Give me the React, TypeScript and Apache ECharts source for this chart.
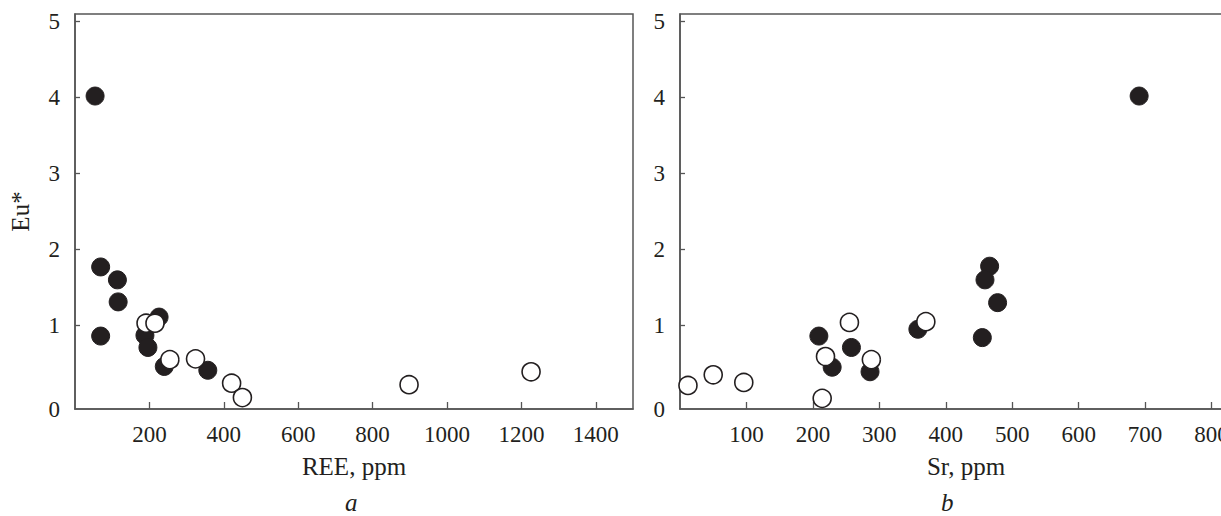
import React, { useEffect, useRef } from "react";
import * as echarts from "echarts";

// Panel a: REE (ppm) vs Eu*
const reeFilled = [54, 69, 114, 116, 69, 226, 188, 196, 240, 357];
const euReeFilled = [4.02, 1.77, 1.6, 1.31, 0.86, 1.11, 0.87, 0.71, 0.46, 0.41];
const reeOpen = [191, 215, 255, 324, 421, 450, 898, 1226];
const euReeOpen = [1.03, 1.03, 0.55, 0.56, 0.24, 0.05, 0.22, 0.39];

// Panel b: Sr (ppm) vs Eu*
const srFilled = [209, 229, 258, 286, 358, 466, 459, 478, 455, 691];
const euSrFilled = [0.86, 0.45, 0.71, 0.39, 0.95, 1.78, 1.6, 1.3, 0.84, 4.02];
const srOpen = [12, 50, 96, 214, 219, 255, 288, 370];
const euSrOpen = [0.21, 0.35, 0.25, 0.04, 0.59, 1.04, 0.55, 1.05];

// Tick values
const reeTicks = [200, 400, 600, 800, 1000, 1200, 1400];
const srTicks = [100, 200, 300, 400, 500, 600, 700, 800];
const euTicks = [1, 2, 3, 4, 5];
const Y_MIN = -0.1;

const xNames = ["REE, ppm", "Sr, ppm"];
const panelLetters = ["a", "b"];
const yName = "Eu*";

const FONT = "'Liberation Serif', 'DejaVu Serif', serif";
const INK = "#231f20";
const AXIS = "#555555";

const zip = (xs: number[], ys: number[]) => xs.map((x, i) => [x, ys[i]]);

export default function App() {
  const ref = useRef<HTMLDivElement>(null);
  useEffect(() => {
    if (!ref.current) return;
    const chart = echarts.init(ref.current, undefined, { renderer: "svg" });
    const labelBase = {
      color: INK,
      fontFamily: FONT,
      fontSize: 23,
      margin: 14,
    };
    const axisLine = { show: true, onZero: false, lineStyle: { color: AXIS, width: 1.5 } };
    const tickStyle = { color: AXIS, width: 1.3 };
    const nameTextStyle = { color: INK, fontFamily: FONT, fontSize: 25 };
    const makeX = (gridIndex: number, max: number, ticks: number[], name: string, shift: number) => ({
      gridIndex,
      type: "value",
      min: 0,
      max,
      axisLine,
      splitLine: { show: false },
      axisTick: { show: true, inside: true, length: 7, lineStyle: tickStyle, customValues: ticks },
      axisLabel: { ...labelBase, customValues: ticks, formatter: (v: number) => String(v) },
      name,
      nameLocation: "middle",
      nameGap: 45,
      nameTextStyle: { ...nameTextStyle, padding: [0, shift, 0, 0] },
    });
    const yLabelValues = [Y_MIN, ...euTicks];
    const makeY = (gridIndex: number, withName: boolean) => ({
      gridIndex,
      type: "value",
      min: Y_MIN,
      max: 5.1,
      axisLine,
      splitLine: { show: false },
      axisTick: { show: true, inside: true, length: 5, lineStyle: tickStyle, customValues: euTicks },
      axisLabel: {
        ...labelBase,
        margin: 15,
        customValues: yLabelValues,
        formatter: (v: number) => (v < 0.5 ? "0" : String(Math.round(v))),
      },
      name: withName ? yName : "",
      nameLocation: "middle",
      nameRotate: 90,
      nameGap: 42,
      nameTextStyle,
    });
    const filledStyle = { color: INK, borderColor: INK, borderWidth: 1, opacity: 1 };
    const openStyle = { color: "#ffffff", borderColor: INK, borderWidth: 1.6, opacity: 1 };
    chart.setOption({
      animation: false,
      grid: [
        {
          left: 75, top: 14, width: 558, height: 395,
          show: true, borderColor: AXIS, borderWidth: 1.5,
          containLabel: false, outerBoundsMode: "none",
        },
        {
          left: 680, top: 14, width: 598, height: 395,
          show: true, borderColor: AXIS, borderWidth: 1.5,
          containLabel: false, outerBoundsMode: "none",
        },
      ],
      xAxis: [makeX(0, 1500, reeTicks, xNames[0], 0), makeX(1, 900, srTicks, xNames[1], 26)],
      yAxis: [makeY(0, true), makeY(1, false)],
      series: [
        { type: "scatter", xAxisIndex: 0, yAxisIndex: 0, symbolSize: 18, data: zip(reeFilled, euReeFilled), itemStyle: filledStyle, z: 2 },
        { type: "scatter", xAxisIndex: 0, yAxisIndex: 0, symbolSize: 18, data: zip(reeOpen, euReeOpen), itemStyle: openStyle, z: 3 },
        { type: "scatter", xAxisIndex: 1, yAxisIndex: 1, symbolSize: 18, data: zip(srFilled, euSrFilled), itemStyle: filledStyle, z: 2 },
        { type: "scatter", xAxisIndex: 1, yAxisIndex: 1, symbolSize: 18, data: zip(srOpen, euSrOpen), itemStyle: openStyle, z: 3 },
      ],
      graphic: [
        {
          type: "text",
          left: 345,
          top: 490,
          style: { text: panelLetters[0], fill: INK, font: `italic 25px ${FONT}` },
        },
        {
          type: "text",
          left: 941,
          top: 490,
          style: { text: panelLetters[1], fill: INK, font: `italic 25px ${FONT}` },
        },
      ],
    });
    return () => chart.dispose();
  }, []);
  return (
    <div
      ref={ref}
      style={{ position: "fixed", left: 0, top: 0, width: 1221, height: 516, background: "#fff", overflow: "hidden" }}
    />
  );
}
